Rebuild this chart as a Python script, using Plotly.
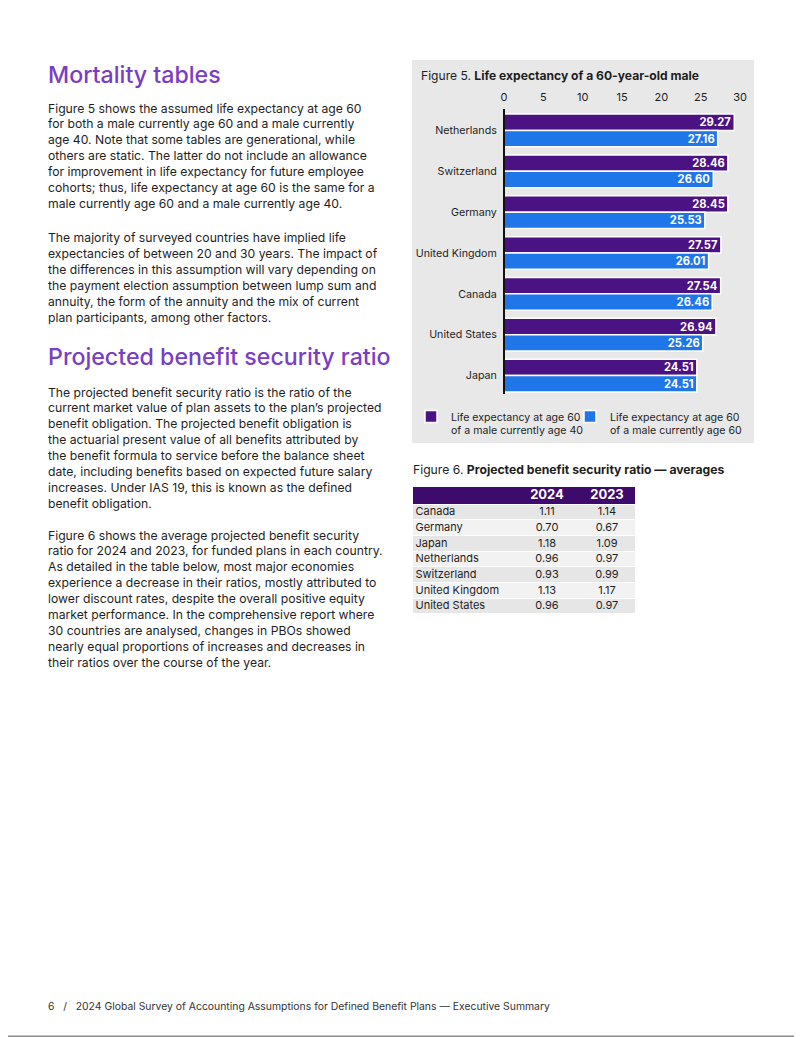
import plotly.graph_objects as go

W, H = 802, 1037
OX, OY = 8, 8   # page body margin offset of the rendered figure

# ---------------- data ----------------
countries = ["Netherlands", "Switzerland", "Germany", "United Kingdom", "Canada", "United States", "Japan"]
le_age40 = [29.27, 28.46, 28.45, 27.57, 27.54, 26.94, 24.51]
le_age60 = [27.16, 26.60, 25.53, 26.01, 26.46, 25.26, 24.51]
series_names = ["Life expectancy at age 60<br>of a male currently age 40",
                "Life expectancy at age 60<br>of a male currently age 60"]
x_ticks = [0, 5, 10, 15, 20, 25, 30]

table_countries = ["Canada", "Germany", "Japan", "Netherlands", "Switzerland", "United Kingdom", "United States"]
ratio_2024 = ["1.11", "0.70", "1.18", "0.96", "0.93", "1.13", "0.96"]
ratio_2023 = ["1.14", "0.67", "1.09", "0.97", "0.99", "1.17", "0.97"]
table_header = ["", "2024", "2023"]

heading1 = "Mortality tables"
heading2 = "Projected benefit security ratio"
para1 = ["Figure 5 shows the assumed life expectancy at age 60",
         "for both a male currently age 60 and a male currently",
         "age 40. Note that some tables are generational, while",
         "others are static. The latter do not include an allowance",
         "for improvement in life expectancy for future employee",
         "cohorts; thus, life expectancy at age 60 is the same for a",
         "male currently age 60 and a male currently age 40."]
para2 = ["The majority of surveyed countries have implied life",
         "expectancies of between 20 and 30 years. The impact of",
         "the differences in this assumption will vary depending on",
         "the payment election assumption between lump sum and",
         "annuity, the form of the annuity and the mix of current",
         "plan participants, among other factors."]
para3 = ["The projected benefit security ratio is the ratio of the",
         "current market value of plan assets to the plan\u2019s projected",
         "benefit obligation. The projected benefit obligation is",
         "the actuarial present value of all benefits attributed by",
         "the benefit formula to service before the balance sheet",
         "date, including benefits based on expected future salary",
         "increases. Under IAS 19, this is known as the defined",
         "benefit obligation."]
para4 = ["Figure 6 shows the average projected benefit security",
         "ratio for 2024 and 2023, for funded plans in each country.",
         "As detailed in the table below, most major economies",
         "experience a decrease in their ratios, mostly attributed to",
         "lower discount rates, despite the overall positive equity",
         "market performance. In the comprehensive report where",
         "30 countries are analysed, changes in PBOs showed",
         "nearly equal proportions of increases and decreases in",
         "their ratios over the course of the year."]
fig5_title = "Figure 5. <b>Life expectancy of a 60-year-old male</b>"
fig6_title = "Figure 6. <b>Projected benefit security ratio \u2014 averages</b>"
footer = "6   /   2024 Global Survey of Accounting Assumptions for Defined Benefit Plans \u2014 Executive Summary"

# ---------------- style ----------------
FONT = "Inter"
PURPLE = "#4B1283"
BLUE = "#1F76E8"
HEAD = "#7A3EC3"
HDR = "#3E0A6C"
PANEL = "#E8E8E8"
TXT = "#1E1E1E"
ROW_A, ROW_B = "#E6E6E6", "#F2F2F2"


def px(x):
    return (x - OX) / W


def py(y):
    return 1 - (y - OY) / H


fig = go.Figure()

# ---------------- Figure 5: grouped horizontal bars ----------------
colors = [PURPLE, BLUE]
legends = ["legend", "legend2"]
for vals, name, col, lg in zip([le_age40, le_age60], series_names, colors, legends):
    fig.add_trace(go.Bar(
        y=countries, x=vals, orientation="h", name=name, legend=lg,
        marker=dict(color=col, line=dict(color="white", width=1.5)),
        texttemplate="<b>%{x:.2f}</b>", textposition="inside",
        insidetextanchor="end", textangle=0,
        textfont=dict(family=FONT, size=11.2, color="white"),
        cliponaxis=False, hoverinfo="skip",
    ))

# ---------------- Figure 6: table drawn on its own axes ----------------
HEADER_H, ROW_H = 17.5, 15.7
col_edges = [0, 102, 166, 222]
row_edges = [0, HEADER_H] + [HEADER_H + ROW_H * (i + 1) for i in range(len(table_countries))]
row_mid = [(row_edges[i] + row_edges[i + 1]) / 2 for i in range(len(row_edges) - 1)]
z = [[2, 2, 2]] + [[i % 2] * 3 for i in range(len(table_countries))]
fig.add_trace(go.Heatmap(
    x=col_edges, y=row_edges, z=z, xaxis="x2", yaxis="y2",
    colorscale=[[0, ROW_A], [0.5, ROW_B], [1, HDR]], zmin=0, zmax=2,
    showscale=False, xgap=0, ygap=1, hoverinfo="skip",
))
col_centers = [(col_edges[1] + col_edges[2]) / 2, (col_edges[2] + col_edges[3]) / 2]
# header labels
fig.add_trace(go.Scatter(
    x=col_centers, y=[row_mid[0]] * 2, xaxis="x2", yaxis="y2", mode="text",
    text=[f"<b>{h}</b>" for h in table_header[1:]], textposition="middle center",
    textfont=dict(family=FONT, size=13, color="white"), showlegend=False, hoverinfo="skip",
))
# country names
fig.add_trace(go.Scatter(
    x=[2.5] * len(table_countries), y=row_mid[1:], xaxis="x2", yaxis="y2", mode="text",
    text=table_countries, textposition="middle right",
    textfont=dict(family=FONT, size=11, color=TXT), showlegend=False, hoverinfo="skip",
))
for ci, vals in enumerate([ratio_2024, ratio_2023]):
    fig.add_trace(go.Scatter(
        x=[col_centers[ci]] * len(vals), y=row_mid[1:], xaxis="x2", yaxis="y2", mode="text",
        text=vals, textposition="middle center",
        textfont=dict(family=FONT, size=11, color=TXT), showlegend=False, hoverinfo="skip",
    ))

annotations = []


def add_text(x, y, text, size, color=TXT, weight=None):
    f = dict(family=FONT, size=size, color=color)
    if weight:
        f["weight"] = weight
    annotations.append(dict(x=px(x), y=py(y), xref="paper", yref="paper", text=text,
                            showarrow=False, xanchor="left", yanchor="middle", font=f))


add_text(46, 75, heading1, 23.2, HEAD, 500)
add_text(46, 357, heading2, 23.2, HEAD, 500)
LS = 15.9
for lines, y0 in [(para1, 108), (para2, 238), (para3, 392), (para4, 535)]:
    for i, ln in enumerate(lines):
        add_text(46, y0 + i * LS, ln, 12.2)
add_text(419, 76, fig5_title, 12.1)
add_text(411, 469, fig6_title, 12.2)
add_text(46, 1006, footer, 10.4, "#333333")

shapes = [
    dict(type="rect", xref="paper", yref="paper", x0=px(412), x1=px(754), y0=py(443), y1=py(60),
         fillcolor=PANEL, line=dict(width=0), layer="below"),
    dict(type="line", xref="paper", yref="paper", x0=px(504), x1=px(504), y0=py(394), y1=py(109),
         line=dict(color="#111111", width=2)),
    dict(type="line", xref="paper", yref="paper", x0=px(800), x1=px(800), y0=py(1036.5), y1=py(0),
         line=dict(color="#8A8A8A", width=2)),
    dict(type="line", xref="paper", yref="paper", x0=px(0), x1=px(801), y0=py(1036.3), y1=py(1036.3),
         line=dict(color="#8A8A8A", width=1.5)),
]

legend_common = dict(orientation="v", xanchor="left", yanchor="top", bgcolor="rgba(0,0,0,0)",
                     font=dict(family=FONT, size=10.6, color=TXT), itemclick=False,
                     itemwidth=30, valign="top", borderwidth=0)

fig.update_layout(
    width=W, height=H, margin=dict(l=0, r=0, t=0, b=0, autoexpand=False),
    paper_bgcolor="white", plot_bgcolor="rgba(0,0,0,0)",
    barmode="group", bargap=0.2, bargroupgap=0.0,
    uniformtext=dict(minsize=11, mode="show"),
    font=dict(family=FONT, color=TXT),
    showlegend=True,
    legend=dict(x=px(411), y=py(403), **legend_common),
    legend2=dict(x=px(570), y=py(403), **legend_common),
    xaxis=dict(domain=[px(504), px(740)], range=[0, 30], side="top", tickvals=x_ticks,
               showgrid=False, zeroline=False, showline=False, ticks="outside", ticklen=4,
               tickcolor="rgba(0,0,0,0)",
               tickfont=dict(family=FONT, size=11, color=TXT), fixedrange=True),
    yaxis=dict(domain=[py(396), py(110)], autorange="reversed", showgrid=False, zeroline=False,
               showline=False, ticks="outside", ticklen=4, tickcolor="rgba(0,0,0,0)",
               tickfont=dict(family=FONT, size=10.7, color=TXT), fixedrange=True),
    xaxis2=dict(domain=[px(413), px(635)], range=[0, col_edges[-1]], visible=False, fixedrange=True,
                anchor="y2"),
    yaxis2=dict(domain=[py(487 + row_edges[-1]), py(487)], range=[row_edges[-1], 0], visible=False,
                fixedrange=True, anchor="x2"),
    annotations=annotations, shapes=shapes,
)

fig.write_html("out.html")
